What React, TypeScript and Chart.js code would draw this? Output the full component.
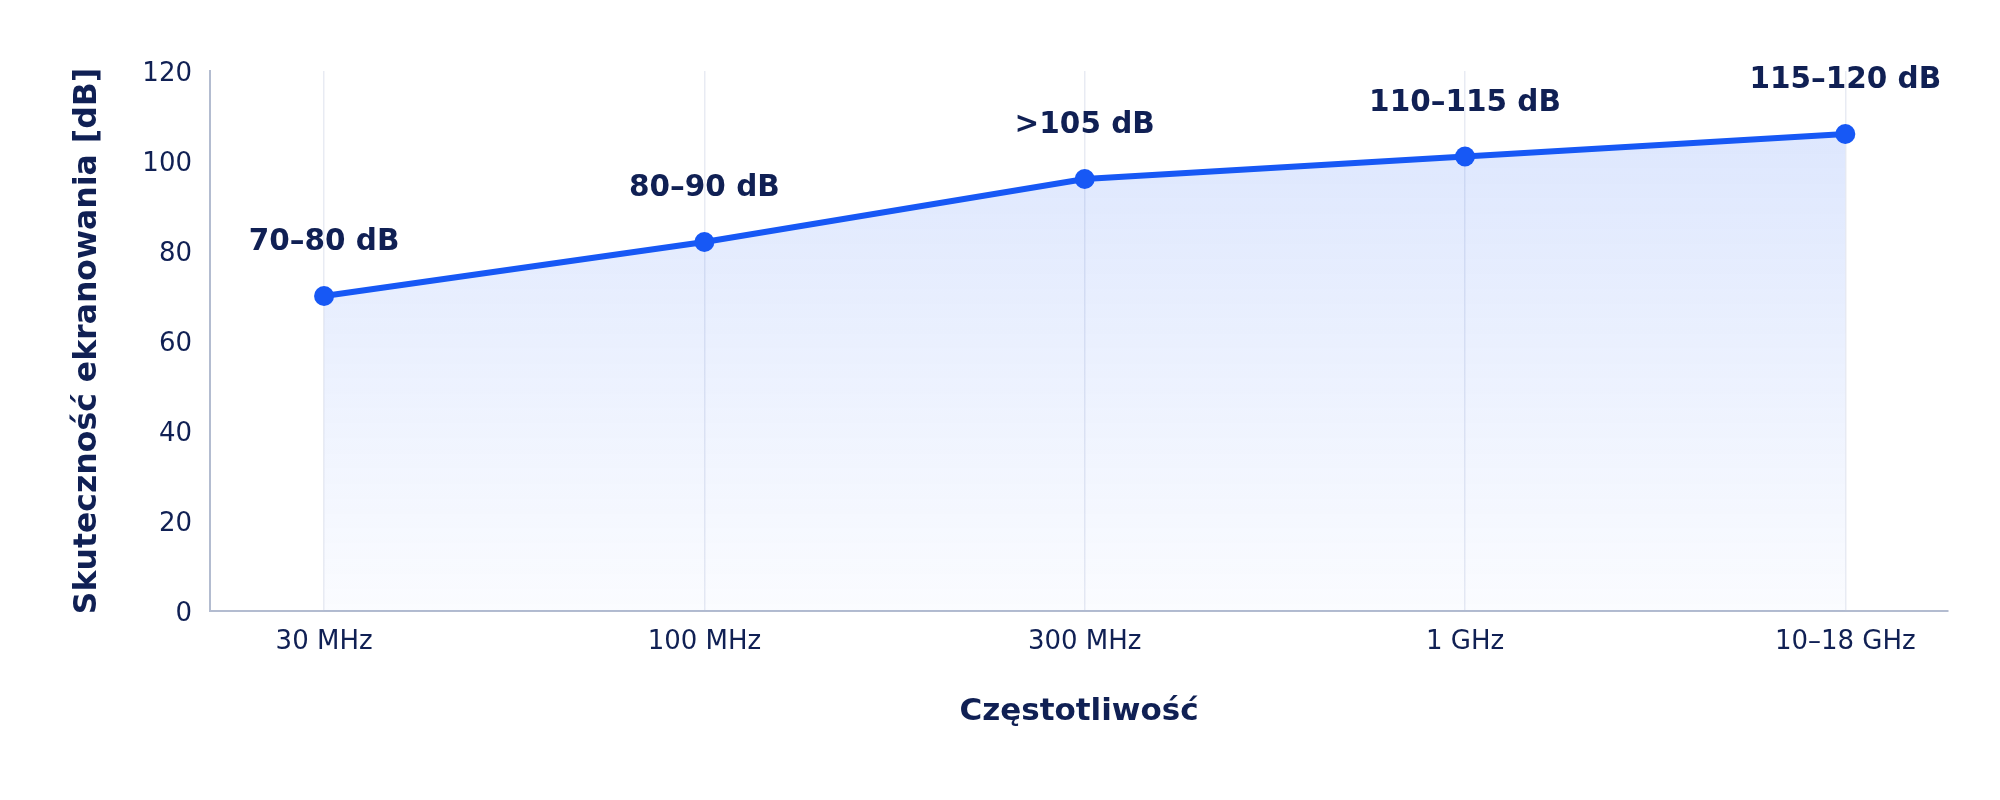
import { useEffect, useRef } from "react"
import { Chart, registerables } from "chart.js"

Chart.register(...registerables)

const frequencies = ["30 MHz", "100 MHz", "300 MHz", "1 GHz", "10–18 GHz"]
const shielding = [70, 82, 96, 101, 106]
const rangeLabels = ["70–80 dB", "80–90 dB", ">105 dB", "110–115 dB", "115–120 dB"]

const NAVY = "#102054"
const BLUE = "#1758f5"

// draws the dB range text above each point
const rangeLabelPlugin = {
  id: "rangeLabels",
  afterDatasetsDraw(chart: Chart) {
    const { ctx } = chart
    const meta = chart.getDatasetMeta(0)
    ctx.save()
    ctx.font = "bold 29.5px 'DejaVu Sans'"
    ctx.fillStyle = NAVY
    ctx.textAlign = "center"
    ctx.textBaseline = "alphabetic"
    meta.data.forEach((pt, i) => {
      ctx.fillText(rangeLabels[i], pt.x, pt.y - 46)
    })
    ctx.restore()
  },
}

export default function App() {
  const chartRef = useRef<HTMLCanvasElement>(null)
  const chartInstance = useRef<Chart | null>(null)

  useEffect(() => {
    const canvas = chartRef.current
    if (!canvas) return
    const ctx = canvas.getContext("2d")
    if (!ctx) return

    if (chartInstance.current) {
      chartInstance.current.destroy()
    }

    chartInstance.current = new Chart(ctx, {
      type: "line",
      data: {
        datasets: [
          {
            label: "Skuteczność ekranowania",
            data: shielding.map((v, i) => ({ x: i, y: v })),
            borderColor: BLUE,
            borderWidth: 6,
            pointRadius: 10,
            pointHoverRadius: 10,
            pointBackgroundColor: BLUE,
            pointBorderWidth: 0,
            tension: 0,
            fill: "origin",
            backgroundColor: (context: any) => {
              const area = context.chart.chartArea
              if (!area) return "rgba(23, 88, 245, 0.1)"
              const g = context.chart.ctx.createLinearGradient(0, area.top, 0, area.bottom)
              g.addColorStop(0, "rgba(23, 88, 245, 0.16)")
              g.addColorStop(1, "rgba(23, 88, 245, 0.02)")
              return g
            },
          },
        ],
      },
      options: {
        responsive: true,
        maintainAspectRatio: false,
        animation: false,
        layout: {
          padding: { top: 71, right: 52, bottom: 0, left: 0 },
        },
        plugins: {
          legend: { display: false },
          tooltip: { enabled: false },
        },
        scales: {
          x: {
            type: "linear",
            min: -0.3,
            max: 4.27,
            afterFit: (scale: any) => {
              scale.height = 189
            },
            ticks: {
              stepSize: 1,
              includeBounds: false,
              padding: 16,
              color: NAVY,
              font: { family: "'DejaVu Sans'", size: 26 },
              callback: (value: any) => frequencies[value as number] ?? "",
            },
            grid: {
              color: "rgba(190, 198, 222, 0.35)",
              lineWidth: 1.5,
              drawTicks: false,
            },
            border: { color: "#b3bcd0", width: 2 },
            title: {
              display: true,
              text: "Częstotliwość",
              color: NAVY,
              font: { family: "'DejaVu Sans'", size: 31, weight: "bold" },
              padding: { top: 0, bottom: 69 },
            },
          },
          y: {
            min: 0,
            max: 120,
            afterFit: (scale: any) => {
              scale.width = 210
            },
            ticks: {
              stepSize: 20,
              padding: 18,
              labelOffset: 3,
              color: NAVY,
              font: { family: "'DejaVu Sans'", size: 26 },
            },
            grid: { display: false, drawTicks: false },
            border: { color: "#b3bcd0", width: 2 },
            title: {
              display: true,
              text: "Skuteczność ekranowania [dB]",
              color: NAVY,
              font: { family: "'DejaVu Sans'", size: 31.5, weight: "bold" },
              padding: { top: 69, bottom: 0 },
            },
          },
        },
      },
      plugins: [rangeLabelPlugin],
    } as any)

    return () => {
      if (chartInstance.current) {
        chartInstance.current.destroy()
        chartInstance.current = null
      }
    }
  }, [])

  return (
    <div style={{ position: "fixed", left: 0, top: 0, width: 2000, height: 800, background: "#ffffff" }}>
      <canvas ref={chartRef}></canvas>
    </div>
  )
}
